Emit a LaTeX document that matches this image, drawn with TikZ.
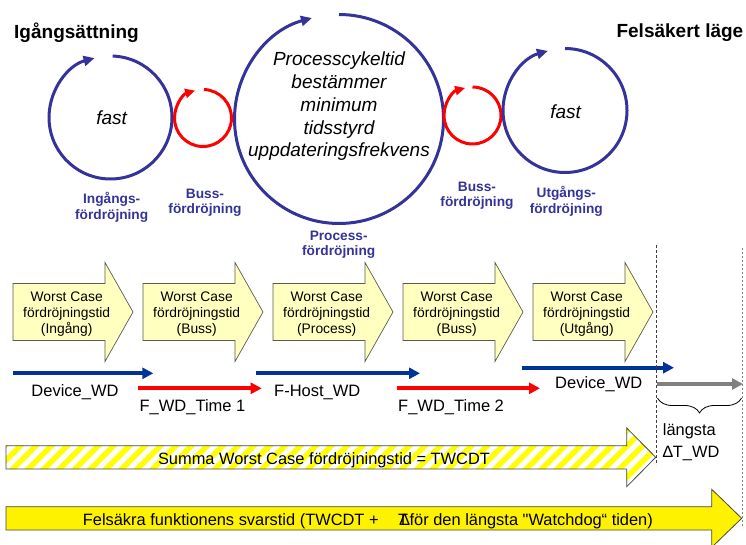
\documentclass[tikz,border=0pt]{standalone}
\usepackage{fontspec}
\setmainfont{Liberation Sans}
\newfontfamily\plainquote{Liberation Sans}[Ligatures=TeXOff]
\usetikzlibrary{arrows.meta,patterns.meta,decorations.pathreplacing}

\definecolor{cycblue}{RGB}{51,51,153}
\definecolor{wdblue}{RGB}{0,51,153}
\definecolor{wdred}{RGB}{255,0,0}
\definecolor{wdgray}{RGB}{128,128,128}
\definecolor{boxfill}{RGB}{255,255,192}
\definecolor{boxline}{RGB}{90,90,80}
\definecolor{barline}{RGB}{70,70,70}

\begin{document}
\begin{tikzpicture}[x=1pt,y=1pt,
  heading/.style={font=\fontsize{19}{22}\selectfont\bfseries, inner sep=0},
  cyctext/.style={font=\fontsize{19}{22.8}\selectfont\itshape, inner sep=0, align=center},
  delaylabel/.style={font=\fontsize{13.7}{15.5}\selectfont\bfseries, text=cycblue, inner sep=0, align=center},
  bluecycle/.style={draw=cycblue, line width=3pt, -{Triangle[length=11pt,width=10pt]}},
  redcycle/.style={draw=wdred, line width=3pt, -{Triangle[length=10pt,width=9pt]}},
  stagearrow/.style={fill=boxfill, draw=boxline, line width=0.7pt, line join=miter},
  stagetext/.style={font=\fontsize{13.85}{15.7}\selectfont, inner sep=0, align=center},
  wdarrow/.style={line width=4pt, -{Triangle[length=11pt,width=11pt]}},
  wdlabel/.style={font=\fontsize{16.5}{19}\selectfont, inner sep=0},
  bartext/.style={font=\fontsize{16.4}{19}\selectfont, inner sep=0},
  bararrow/.style={draw=barline, line width=0.8pt},
]
\useasboundingbox (0,0) rectangle (746,544);

% headings
\node[heading, anchor=base west] (start) at (14,505.7) {Igångsättning};
\node[heading, anchor=base east] (safe) at (743.5,506.5) {Felsäkert läge};

% cycle centres
\coordinate (cin)   at (110.5,426.5);
\coordinate (cbus1) at (203,426);
\coordinate (cproc) at (339,425);
\coordinate (cbus2) at (472.5,428.5);
\coordinate (cout)  at (565,433.5);

% cycles (open circles with an arrow closing the loop)
\draw[bluecycle] (cin)   ++(88:61.5pt) arc[start angle=88, end angle=-255, radius=61.5pt];
\draw[redcycle]  (cbus1) ++(88:28.5pt) arc[start angle=88, end angle=-254, radius=28.5pt];
\draw[bluecycle] (cproc) ++(90:104.5pt) arc[start angle=90, end angle=-255, radius=104.5pt];
\draw[redcycle]  (cbus2) ++(90:28.5pt) arc[start angle=90, end angle=-255, radius=28.5pt];
\draw[bluecycle] (cout)  ++(90:62pt) arc[start angle=90, end angle=-254, radius=62pt];

% texts inside the cycles (multi-line nodes sit on their last baseline)
\node[cyctext, anchor=base] (fastin) at (111.7,419) {fast};
\node[cyctext, anchor=base] (proctext) at (339,387)
  {Processcykeltid\\bestämmer\\minimum\\tidsstyrd\\uppdateringsfrekvens};
\node[cyctext, anchor=base] (fastout) at (565.7,425.7) {fast};

% delay labels
\node[delaylabel, anchor=base] (lin)   at (111.7,324.7) {Ingångs-\\fördröjning};
\node[delaylabel, anchor=base] (lbus1) at (205,330.4)   {Buss-\\fördröjning};
\node[delaylabel, anchor=base] (lproc) at (338.7,288)   {Process-\\fördröjning};
\node[delaylabel, anchor=base] (lbus2) at (477,337)     {Buss-\\fördröjning};
\node[delaylabel, anchor=base] (lout)  at (566.3,330.5) {Utgångs-\\fördröjning};

% worst case stages
\foreach \L/\name/\lab in {13/in/Ingång,143/bus1/Buss,273/proc/Process,403/bus2/Buss,533/out/Utgång}{
  \draw[stagearrow] (\L,203.5) -- (\L+92,203.5) -- (\L+92,182.5) -- (\L+120,232)
    -- (\L+92,281.5) -- (\L+92,260.5) -- (\L,260.5) -- cycle;
  \node[stagetext, anchor=base] (stage-\name) at (\L+53.7,211)
    {Worst Case\\fördröjningstid\\(\lab)};
}

% watchdog time lines
\coordinate (d1s) at (13,170.7);    \coordinate (d1e) at (153.3,170.7);
\coordinate (f1s) at (138.3,155.7); \coordinate (f1e) at (261.7,155.7);
\coordinate (hs)  at (255.7,170.7); \coordinate (he)  at (420,170.7);
\coordinate (f2s) at (396.7,155.7); \coordinate (f2e) at (540,155.7);
\coordinate (d2s) at (521.7,176.3); \coordinate (d2e) at (674,176.3);
\coordinate (gs)  at (656.7,160);   \coordinate (ge)  at (743,160);

\draw[wdarrow, wdblue] (d1s) -- (d1e);
\draw[wdarrow, wdred]  (f1s) -- (f1e);
\draw[wdarrow, wdblue] (hs)  -- (he);
\draw[wdarrow, wdred]  (f2s) -- (f2e);
\draw[wdarrow, wdblue] (d2s) -- (d2e);
\draw[wdarrow, wdgray] (gs)  -- (ge);

\node[wdlabel, anchor=base]      (d1l) at (75,148)    {Device\_WD};
\node[wdlabel, anchor=base]      (f1l) at (192.5,133) {F\_WD\_Time 1};
\node[wdlabel, anchor=base west] (hl)  at (274,148)   {F-Host\_WD};
\node[wdlabel, anchor=base west] (f2l) at (398,133)   {F\_WD\_Time 2};
\node[wdlabel, anchor=base west] (d2l) at (555,156)   {Device\_WD};

% limits of the watchdog interval
\coordinate (m1t) at (656,299);   \coordinate (m1b) at (656,79);
\coordinate (m2t) at (742.7,296); \coordinate (m2b) at (742.7,16);
\draw[black!75, line width=0.8pt, dash pattern=on 3pt off 2pt] (m1t) -- (m1b);
\draw[wdgray, line width=1.3pt, dash pattern=on 2pt off 2pt] (m2t) -- (m2b);

\coordinate (br) at (741.5,146); \coordinate (bl) at (657.5,146);
\draw[decorate, decoration={brace, amplitude=15pt}, line width=0.8pt] (br) -- (bl);
\node[anchor=base west, align=left, inner sep=0, font=\fontsize{16.4}{21.6}\selectfont]
  (tw) at (662.7,86.7) {längsta\\∆T\_WD};

% total worst case delay
\draw[bararrow, preaction={fill=white},
      pattern={Lines[angle=45,distance=11pt,line width=5.5pt]}, pattern color=yellow]
  (6,75) -- (626.7,75) -- (626.7,57.3) -- (655.7,86.7) -- (626.7,116)
  -- (626.7,98.3) -- (6,98.3) -- cycle;
\node[bartext, anchor=base] (twcdt) at (324,80) {Summa Worst Case fördröjningstid = TWCDT};

% safety function response time
\draw[bararrow, fill=yellow]
  (6,14) -- (711.7,14) -- (711.7,-3.3) -- (741.7,25.7) -- (711.7,54.7)
  -- (711.7,37.3) -- (6,37.3) -- cycle;
\node[bartext, anchor=base west] (resp) at (82.7,19)
  {Felsäkra funktionens svarstid (TWCDT +\hspace{19.5pt}\rlap{T}\kern1.5pt∆för den längsta {\plainquote"}Watchdog“ tiden)};
\end{tikzpicture}
\end{document}
